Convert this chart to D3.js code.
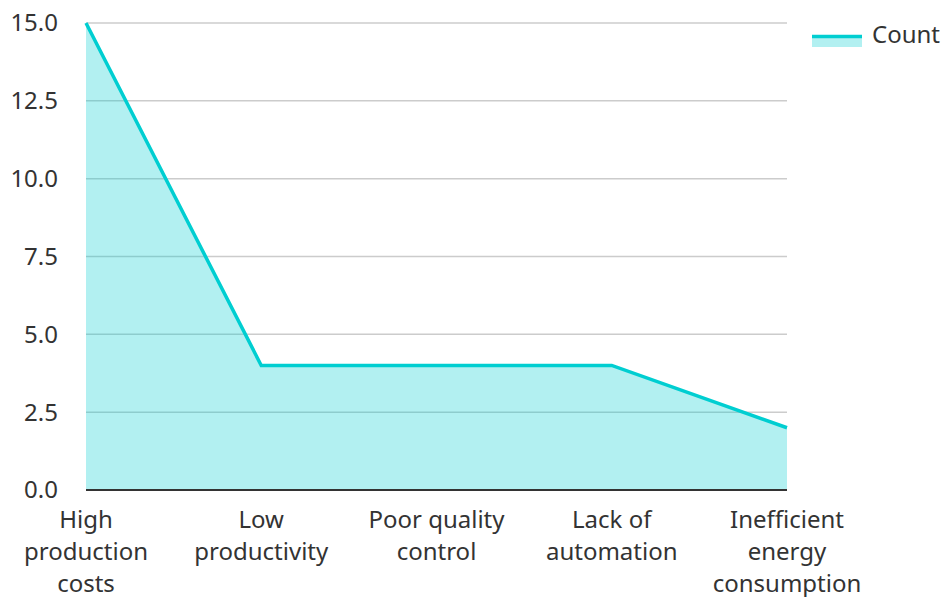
<html>
<head>
  <script src="https://d3js.org/d3.v7.min.js"></script>
  <style>
    body { margin: 0; background: #fff; }
    svg { font-family: "Noto Sans", sans-serif; }
  </style>
</head>
<body>
  <div id="chart"></div>
</body>
<script>
  // data
  var categories = ["High production costs", "Low productivity", "Poor quality control", "Lack of automation", "Inefficient energy consumption"];
  var labelLines = [["High", "production", "costs"], ["Low", "productivity"], ["Poor quality", "control"], ["Lack of", "automation"], ["Inefficient", "energy", "consumption"]];
  var counts = [15, 4, 4, 4, 2];
  var yTicks = [0, 2.5, 5, 7.5, 10, 12.5, 15];
  var seriesName = "Count";

  var width = 945, height = 597;
  var margin = { left: 86, right: 158, top: 23, bottom: 107 };
  var lineColor = "#00ced1";
  var fontSize = 24;

  var svg = d3.select("#chart").append("svg")
    .attr("width", width).attr("height", height);

  var x = d3.scalePoint().domain(categories)
    .range([margin.left, width - margin.right]);
  var y = d3.scaleLinear().domain([0, 15])
    .range([height - margin.bottom, margin.top]);

  // gridlines
  svg.append("g").selectAll("line").data(yTicks.slice(1)).enter().append("line")
    .attr("x1", margin.left).attr("x2", width - margin.right)
    .attr("y1", function(d) { return y(d); }).attr("y2", function(d) { return y(d); })
    .attr("stroke", "#cccccc").attr("stroke-width", 1.5);

  // area + line
  var area = d3.area()
    .x(function(d, i) { return x(categories[i]); })
    .y0(y(0)).y1(function(d) { return y(d); });
  var line = d3.line()
    .x(function(d, i) { return x(categories[i]); })
    .y(function(d) { return y(d); });

  svg.append("path").datum(counts).attr("d", area)
    .attr("fill", lineColor).attr("fill-opacity", 0.3);
  svg.append("path").datum(counts).attr("d", line)
    .attr("fill", "none").attr("stroke", lineColor).attr("stroke-width", 3.5);

  // y axis labels
  svg.append("g").selectAll("text").data(yTicks).enter().append("text")
    .attr("x", 58).attr("y", function(d) { return y(d); })
    .attr("dy", "0.35em").attr("text-anchor", "end")
    .attr("font-size", fontSize).attr("fill", "#333")
    .text(function(d) { return d3.format(".1f")(d); });

  // x axis line
  svg.append("line")
    .attr("x1", margin.left).attr("x2", width - margin.right)
    .attr("y1", y(0)).attr("y2", y(0))
    .attr("stroke", "#333").attr("stroke-width", 2);

  // x labels
  var xl = svg.append("g").selectAll("text").data(categories).enter().append("text")
    .attr("text-anchor", "middle").attr("font-size", fontSize).attr("fill", "#333");
  xl.each(function(d, i) {
    var t = d3.select(this);
    labelLines[i].forEach(function(s, j) {
      t.append("tspan").attr("x", x(d)).attr("y", y(0) + 38 + j * 32).text(s);
    });
  });

  // legend
  var lg = svg.append("g").attr("transform", "translate(812,35)");
  lg.append("rect").attr("x", 0).attr("y", 0).attr("width", 50).attr("height", 12)
    .attr("fill", lineColor).attr("fill-opacity", 0.3);
  lg.append("line").attr("x1", 0).attr("x2", 50).attr("y1", 1.5).attr("y2", 1.5)
    .attr("stroke", lineColor).attr("stroke-width", 3.5);
  lg.append("text").attr("x", 60).attr("y", 0).attr("dy", "0.35em")
    .attr("font-size", fontSize).attr("fill", "#333").text(seriesName);
</script>
</html>
